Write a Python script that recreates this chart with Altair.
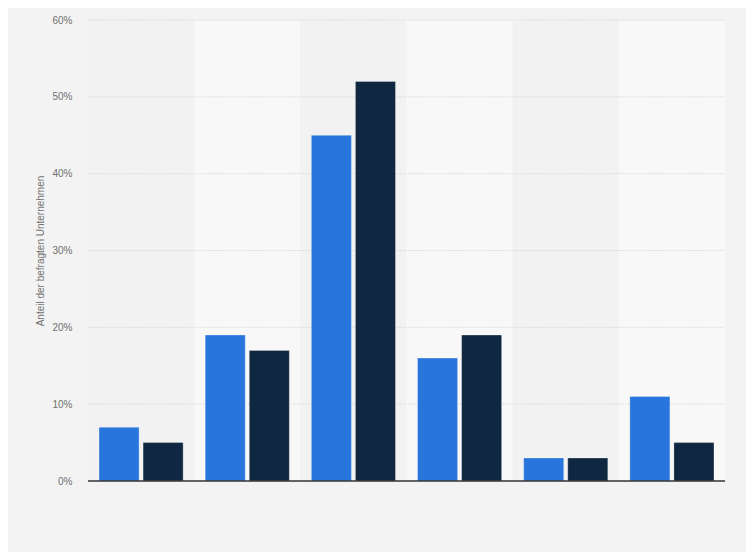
import altair as alt
import pandas as pd

categories = ["A", "B", "C", "D", "E", "F"]
series_names = ["Serie 1", "Serie 2"]
values_1 = [7, 19, 45, 16, 3, 11]
values_2 = [5, 17, 52, 19, 3, 5]
series_colors = ["#2876dd", "#0f2740"]
band_shades = ["#f2f2f2", "#f8f8f8"]
tick_values = [0, 0.1, 0.2, 0.3, 0.4, 0.5, 0.6]

rows = []
for c, v1, v2 in zip(categories, values_1, values_2):
    rows.append({"cat": c, "series": series_names[0], "value": v1 / 100})
    rows.append({"cat": c, "series": series_names[1], "value": v2 / 100})
df = pd.DataFrame(rows)

bands = pd.DataFrame({
    "cat": categories,
    "shade": [band_shades[i % 2] for i in range(len(categories))],
    "y0": [0.0] * len(categories),
    "y1": [0.6] * len(categories),
})
grid_df = pd.DataFrame({"v": tick_values[1:]})

W, H = 637, 461

xscale = alt.Scale(domain=categories, paddingInner=0, paddingOuter=0)
yscale = alt.Scale(domain=[0, 0.6], nice=False)

band_layer = alt.Chart(bands).mark_rect().encode(
    x=alt.X("cat:N", scale=xscale, axis=None, sort=categories),
    y=alt.Y("y0:Q", scale=yscale,
            axis=alt.Axis(format=".0%", values=tick_values,
                          title="Anteil der befragten Unternehmen",
                          grid=False, domain=False, ticks=False, tickSize=0, labelPadding=16,
                          labelColor="#707070", labelFontSize=10, labelFont="Liberation Sans",
                          titleColor="#707070", titleFontSize=10, titleFont="Liberation Sans",
                          titleFontWeight="normal", titlePadding=6)),
    y2="y1:Q",
    color=alt.Color("shade:N", scale=None, legend=None),
)

grid_layer = alt.Chart(grid_df).mark_rule(color="#cfcfcf", strokeWidth=1, strokeDash=[1, 1.5]).encode(
    y=alt.Y("v:Q", scale=yscale),
    x=alt.value(0), x2=alt.value(W),
)

bars = alt.Chart(df).mark_bar(stroke="#ffffff", strokeOpacity=0.3, strokeWidth=1).encode(
    x=alt.X("cat:N", scale=xscale, axis=None, sort=categories),
    xOffset=alt.XOffset("series:N", sort=series_names,
                        scale=alt.Scale(paddingInner=0.0909, paddingOuter=0.25)),
    y=alt.Y("value:Q", scale=yscale),
    color=alt.Color("series:N", scale=alt.Scale(domain=series_names, range=series_colors),
                    legend=None),
)

baseline = alt.Chart(pd.DataFrame({"v": [0]})).mark_rule(color="#333333", strokeWidth=1.5).encode(
    y=alt.Y("v:Q", scale=yscale),
    x=alt.value(0), x2=alt.value(W),
)

chart = alt.layer(band_layer, grid_layer, bars, baseline).properties(
    width=W, height=H,
    background="#f3f3f3",
    padding={"left": 80, "top": 12, "right": 21, "bottom": 71},
    autosize=alt.AutoSizeParams(type="none"),
).configure_view(stroke=None)

chart.save("out.html", embed_options={"renderer": "svg", "actions": False})
